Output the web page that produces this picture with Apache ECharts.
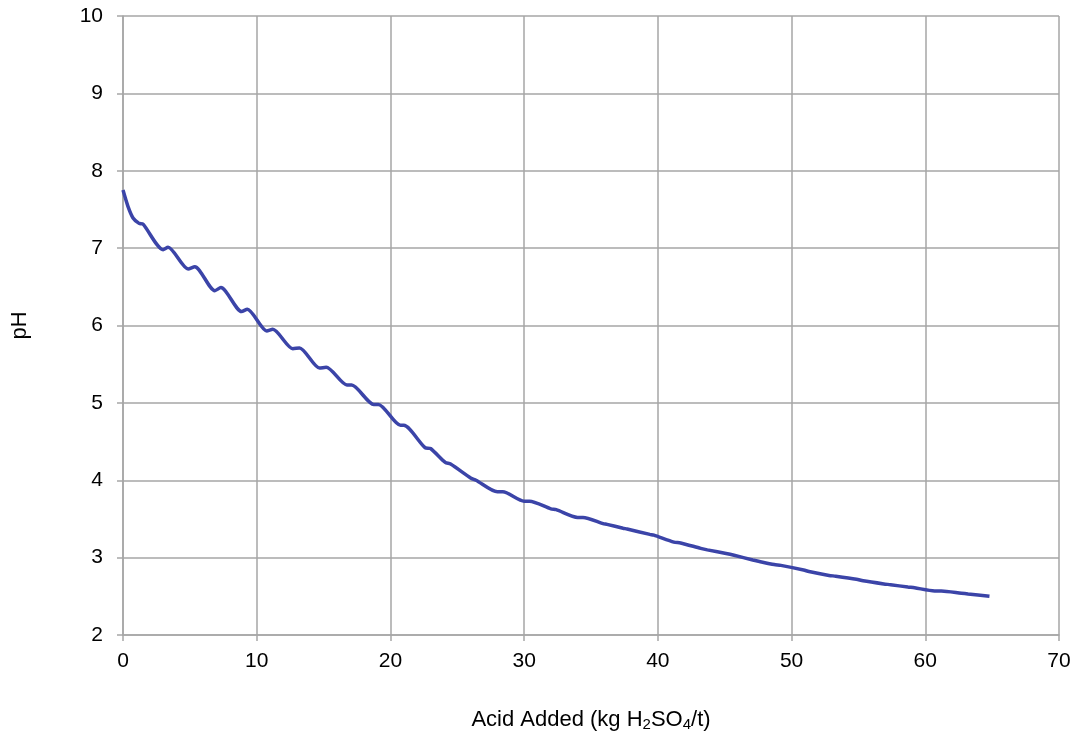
<!DOCTYPE html>
<html><head><meta charset="utf-8">
<script src="https://cdn.jsdelivr.net/npm/echarts@6/dist/echarts.min.js"></script>
<style>html,body{margin:0;padding:0;background:#fff}#c{width:1082px;height:737px}</style>
</head><body><div id="c"></div>
<script>
const acidAdded = [0, 0.37, 0.75, 1.2, 1.5, 3.0, 3.37, 4.87, 5.37, 6.87, 7.32, 8.87, 9.3, 10.75, 11.2, 12.7, 13.2, 14.7, 15.2, 16.75, 17.1, 18.75, 19.1, 20.75, 21.0, 22.6, 23.0, 24.1, 24.5, 26.0, 26.4, 28.0, 28.4, 30.0, 30.4, 32.0, 32.4, 34.0, 34.4, 35.9, 36.2, 37.4, 37.7, 39.4, 39.7, 41.2, 41.7, 43.2, 43.7, 45.2, 45.7, 47.1, 47.6, 48.7, 49.2, 50.9, 51.3, 52.8, 53.3, 54.85, 55.35, 56.9, 57.4, 58.7, 59.2, 60.7, 61.2, 62.7, 63.2, 64.8];
const pHValues = [7.75, 7.54, 7.39, 7.32, 7.31, 6.98, 7.01, 6.73, 6.76, 6.45, 6.49, 6.18, 6.21, 5.93, 5.95, 5.70, 5.71, 5.45, 5.46, 5.23, 5.23, 4.98, 4.98, 4.71, 4.71, 4.42, 4.41, 4.23, 4.21, 4.03, 4.00, 3.85, 3.85, 3.73, 3.73, 3.63, 3.62, 3.52, 3.52, 3.44, 3.43, 3.38, 3.37, 3.30, 3.29, 3.20, 3.19, 3.12, 3.10, 3.05, 3.03, 2.97, 2.95, 2.91, 2.90, 2.84, 2.82, 2.77, 2.76, 2.72, 2.70, 2.66, 2.65, 2.62, 2.61, 2.57, 2.57, 2.54, 2.53, 2.50];
const xTicks = {min: 0, max: 70, interval: 10};
const yTicks = {min: 2, max: 10, interval: 1};

const chart = echarts.init(document.getElementById('c'));
const gridColor = '#a6a6a6';
const font = 'Liberation Sans, Arial, sans-serif';
chart.setOption({
  animation: false,
  grid: {left: 123, right: 23, top: 16, bottom: 100, containLabel: false},
  xAxis: {
    type: 'value', min: xTicks.min, max: xTicks.max, interval: xTicks.interval,
    name: 'Acid Added (kg H{sub|2}SO{sub|4}/t)', nameLocation: 'middle', nameGap: 72,
    nameTextStyle: {fontFamily: font, fontSize: 22, color: '#000',
      rich: {sub: {fontFamily: font, fontSize: 15, color: '#000', verticalAlign: 'bottom', padding: [10, 0, 0, 0]}}},
    axisLine: {show: true, lineStyle: {color: gridColor, width: 1.5}},
    axisTick: {show: true, length: 6, lineStyle: {color: gridColor, width: 1.5}},
    axisLabel: {fontFamily: font, fontSize: 21, color: '#000', margin: 16},
    splitLine: {show: true, lineStyle: {color: gridColor, width: 1.5}}
  },
  yAxis: {
    type: 'value', min: yTicks.min, max: yTicks.max, interval: yTicks.interval,
    name: 'pH', nameLocation: 'middle', nameGap: 92, nameRotate: 90,
    nameTextStyle: {fontFamily: font, fontSize: 22, color: '#000'},
    axisLine: {show: true, lineStyle: {color: gridColor, width: 1.5}},
    axisTick: {show: true, length: 6, lineStyle: {color: gridColor, width: 1.5}},
    axisLabel: {fontFamily: font, fontSize: 21, color: '#000', margin: 20},
    splitLine: {show: true, lineStyle: {color: gridColor, width: 1.5}}
  },
  series: [{
    type: 'line', smooth: 0.25, symbol: 'none',
    data: acidAdded.map((x, i) => [x, pHValues[i]]),
    lineStyle: {color: '#3b44a8', width: 3.5}
  }]
});
</script></body></html>
